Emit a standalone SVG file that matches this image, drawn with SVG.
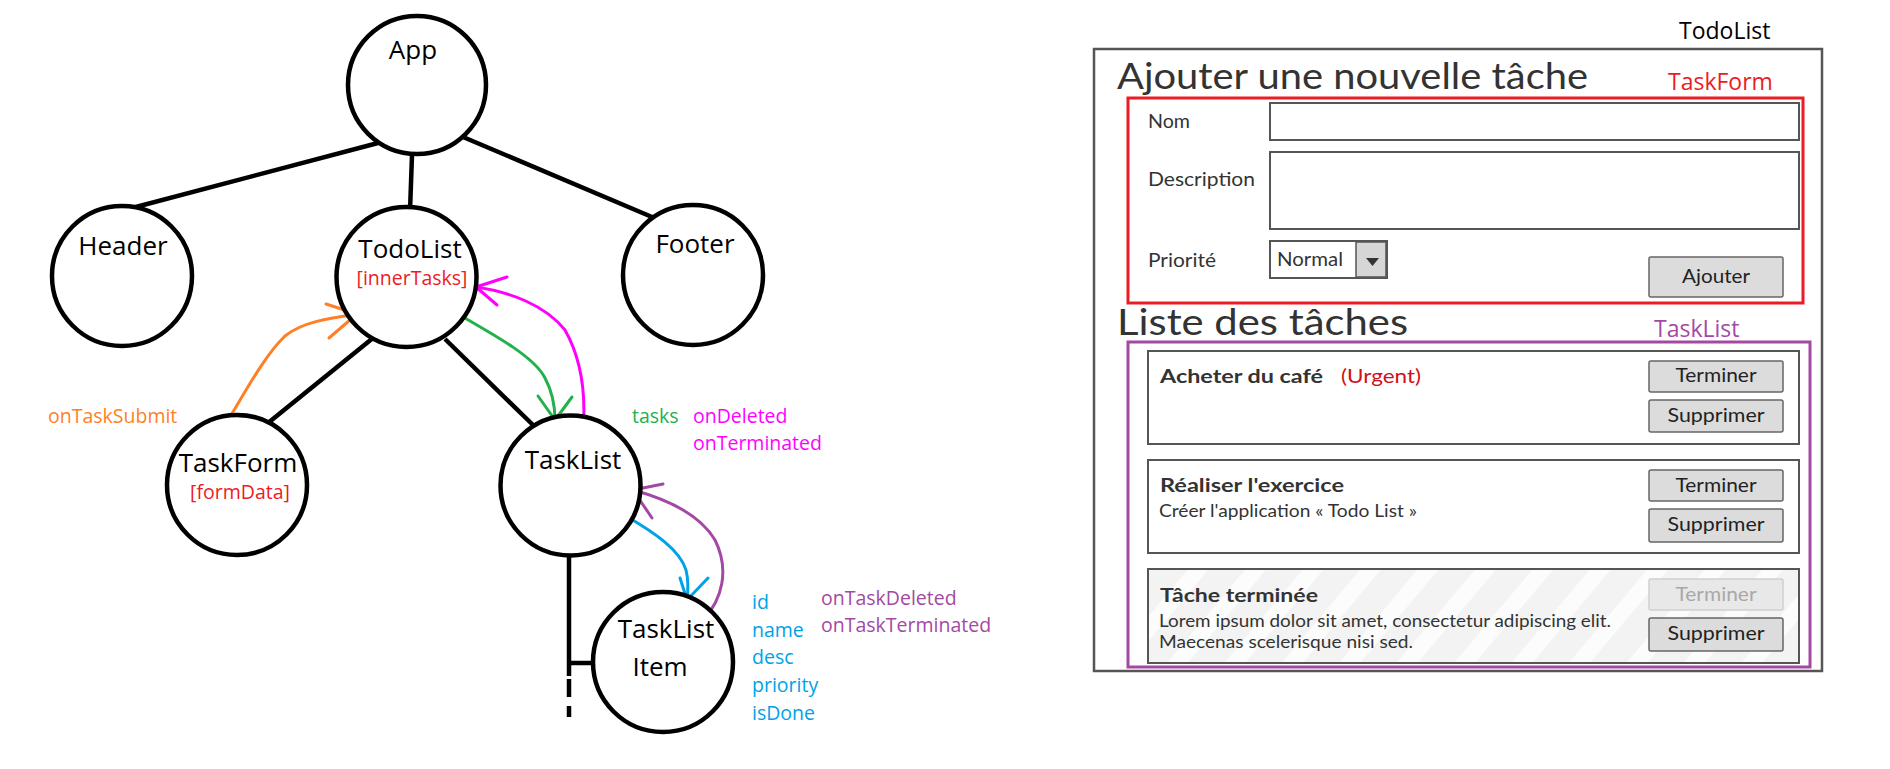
<svg xmlns="http://www.w3.org/2000/svg" width="1890" height="769" viewBox="0 0 1890 769">
<style>
.node{fill:#fff;stroke:#000;stroke-width:4.5}
.nt{font-family:"Open Sans","Liberation Sans",sans-serif;font-size:26px;fill:#000;text-anchor:middle}
.st{font-family:"Open Sans","Liberation Sans",sans-serif;font-size:19.5px}
.edge{stroke:#000;stroke-width:4.5;fill:none}
.arr{fill:none;stroke-width:3;stroke-linecap:round;stroke-linejoin:round}
.mk{font-family:Lato,"Open Sans",sans-serif;fill:#333}
.box{fill:#fff;stroke:#555;stroke-width:2}
.btn{fill:#dcdcdc;stroke:#666;stroke-width:1.5}
.bt{font-family:Lato,"Open Sans",sans-serif;font-size:20px;fill:#222;text-anchor:middle}
</style>
<defs>
<pattern id="stripes" width="44" height="44" patternUnits="userSpaceOnUse" patternTransform="rotate(40)">
<rect width="44" height="44" fill="#f3f3f3"/>
<rect width="16" height="44" fill="#fcfcfc"/>
</pattern>
</defs>
<rect width="1890" height="769" fill="#fff"/>

<g id="connectors">
<line class="edge" x1="378" y1="143" x2="132" y2="208"/>
<line class="edge" x1="412" y1="155" x2="410" y2="211"/>
<line class="edge" x1="463" y1="137" x2="652" y2="217"/>
<line class="edge" x1="373" y1="338" x2="268" y2="423"/>
<line class="edge" x1="445" y1="339" x2="533" y2="425"/>
<line class="edge" x1="569" y1="555" x2="569" y2="676"/>
<line class="edge" x1="569" y1="679" x2="569" y2="697"/>
<line class="edge" x1="569" y1="706" x2="569" y2="717"/>
<line class="edge" x1="567" y1="663" x2="596" y2="663"/>
<path class="arr" stroke="#ff7f27" d="M222,430 C240,402 262,358 285,336 C302,322 330,318 357,314"/>
<path class="arr" stroke="#ff7f27" d="M326,304 L357,314 L329,338"/>
<path class="arr" stroke="#22b14c" d="M456,313 C500,338 535,358 545,378 C553,393 555,405 555,420"/>
<path class="arr" stroke="#22b14c" d="M538,396 L555,420 L572,397"/>
<path class="arr" stroke="#ff00ff" d="M583,431 C586,395 582,360 565,330 C545,305 510,292 476,287"/>
<path class="arr" stroke="#ff00ff" d="M507,277 L476,287 L497,305"/>
<path class="arr" stroke="#a349a4" d="M703,620 C722,600 730,570 715,540 C700,515 670,500 633,490"/>
<path class="arr" stroke="#a349a4" d="M663,484 L633,490 L652,518"/>
<path class="arr" stroke="#00a2e8" d="M626,516 C655,533 680,550 686,570 C689,582 688,592 687,600"/>
<path class="arr" stroke="#00a2e8" d="M680,578 L687,600 L708,578"/>
</g>

<g id="node-app"><circle class="node" cx="417" cy="85" r="69"/><text class="nt" x="413" y="59">App</text></g>
<g id="node-header"><circle class="node" cx="122" cy="276" r="70"/><text class="nt" x="123" y="255">Header</text></g>
<g id="node-todolist"><circle class="node" cx="406.5" cy="277" r="70"/><text class="nt" x="410" y="258">TodoList</text><text class="st" x="412" y="285" fill="#ed1c24" text-anchor="middle">[innerTasks]</text></g>
<g id="node-footer"><circle class="node" cx="693" cy="275" r="70"/><text class="nt" x="695" y="253">Footer</text></g>
<g id="node-taskform"><circle class="node" cx="237" cy="485" r="70"/><text class="nt" x="238" y="472">TaskForm</text><text class="st" x="240" y="499" fill="#ed1c24" text-anchor="middle">[formData]</text></g>
<g id="node-tasklist"><circle class="node" cx="570.5" cy="485.5" r="70"/><text class="nt" x="573" y="469">TaskList</text></g>
<g id="node-tasklistitem"><circle class="node" cx="663" cy="662" r="70"/><text class="nt" x="666" y="638">TaskList</text><text class="nt" x="660" y="676">Item</text></g>

<g id="labels">
<text class="st" x="48" y="423" fill="#ff7f27">onTaskSubmit</text>
<text class="st" x="632" y="423" fill="#22b14c">tasks</text>
<text class="st" x="693" y="423" fill="#ff00ff">onDeleted</text>
<text class="st" x="693" y="450" fill="#ff00ff">onTerminated</text>
<text class="st" x="752" y="609" fill="#00a2e8">id</text>
<text class="st" x="752" y="637" fill="#00a2e8">name</text>
<text class="st" x="752" y="664" fill="#00a2e8">desc</text>
<text class="st" x="752" y="692" fill="#00a2e8">priority</text>
<text class="st" x="752" y="720" fill="#00a2e8">isDone</text>
<text class="st" x="821" y="605" fill="#a349a4">onTaskDeleted</text>
<text class="st" x="821" y="632" fill="#a349a4">onTaskTerminated</text>
</g>

<g id="mockup">
<text x="1679" y="39" font-family="Open Sans, sans-serif" font-size="23" fill="#000">TodoList</text>
<rect x="1094" y="49" width="728" height="622" fill="#fff" stroke="#555" stroke-width="2.5"/>
<text class="mk" x="1117" y="89" font-size="37" textLength="471" lengthAdjust="spacingAndGlyphs">Ajouter une nouvelle tâche</text>
<text x="1668" y="90" font-family="Open Sans, sans-serif" font-size="23" fill="#ed1c24">TaskForm</text>
<rect x="1128" y="98" width="675" height="205" fill="none" stroke="#ed1c24" stroke-width="3"/>
<text class="mk" x="1148" y="128" font-size="20" textLength="42" lengthAdjust="spacingAndGlyphs">Nom</text>
<text class="mk" x="1148" y="186" font-size="20" textLength="107" lengthAdjust="spacingAndGlyphs">Description</text>
<text class="mk" x="1148" y="267" font-size="20" textLength="68" lengthAdjust="spacingAndGlyphs">Priorité</text>
<rect class="box" x="1270" y="103" width="529" height="37"/>
<rect class="box" x="1270" y="152" width="529" height="77"/>
<rect class="box" x="1270" y="241" width="117" height="37"/>
<rect x="1356" y="242" width="30" height="35" fill="#d6d6d6" stroke="#555" stroke-width="1.5"/>
<polygon points="1366,258 1379,258 1372.5,266" fill="#333"/>
<text class="mk" x="1277" y="266" font-size="19" textLength="66" lengthAdjust="spacingAndGlyphs">Normal</text>
<rect class="btn" x="1649" y="257" width="134" height="40" rx="2"/>
<text class="bt" x="1716" y="283" textLength="68" lengthAdjust="spacingAndGlyphs">Ajouter</text>
<text class="mk" x="1117" y="335" font-size="37" textLength="291" lengthAdjust="spacingAndGlyphs">Liste des tâches</text>
<text x="1654" y="337" font-family="Open Sans, sans-serif" font-size="23" fill="#a349a4">TaskList</text>
<rect x="1128" y="342" width="682" height="325" fill="none" stroke="#a349a4" stroke-width="3"/>

<rect class="box" x="1148" y="351" width="651" height="93"/>
<text class="mk" x="1160" y="383" font-size="19" font-weight="bold" textLength="163" lengthAdjust="spacingAndGlyphs">Acheter du café</text>
<text x="1341" y="383" font-family="Lato, sans-serif" font-size="19" fill="#d0101a" textLength="80" lengthAdjust="spacingAndGlyphs">(Urgent)</text>
<rect class="btn" x="1649" y="361" width="134" height="31" rx="2"/>
<text class="bt" x="1716" y="382" textLength="81" lengthAdjust="spacingAndGlyphs">Terminer</text>
<rect class="btn" x="1649" y="400" width="134" height="32" rx="2"/>
<text class="bt" x="1716" y="422" textLength="97" lengthAdjust="spacingAndGlyphs">Supprimer</text>

<rect class="box" x="1148" y="460" width="651" height="93"/>
<text class="mk" x="1160" y="492" font-size="19" font-weight="bold" textLength="184" lengthAdjust="spacingAndGlyphs">Réaliser l'exercice</text>
<text class="mk" x="1159" y="517" font-size="17" textLength="258" lengthAdjust="spacingAndGlyphs">Créer l'application « Todo List »</text>
<rect class="btn" x="1649" y="470" width="134" height="31" rx="2"/>
<text class="bt" x="1716" y="492" textLength="81" lengthAdjust="spacingAndGlyphs">Terminer</text>
<rect class="btn" x="1649" y="509" width="134" height="33" rx="2"/>
<text class="bt" x="1716" y="531" textLength="97" lengthAdjust="spacingAndGlyphs">Supprimer</text>

<rect x="1148" y="569" width="651" height="94" fill="url(#stripes)" stroke="#555" stroke-width="2"/>
<text class="mk" x="1160" y="602" font-size="19" font-weight="bold" textLength="158" lengthAdjust="spacingAndGlyphs">Tâche terminée</text>
<text class="mk" x="1159" y="627" font-size="17" textLength="452" lengthAdjust="spacingAndGlyphs">Lorem ipsum dolor sit amet, consectetur adipiscing elit.</text>
<text class="mk" x="1159" y="648" font-size="17" textLength="254" lengthAdjust="spacingAndGlyphs">Maecenas scelerisque nisi sed.</text>
<rect x="1649" y="579" width="134" height="31" rx="2" fill="#e8e8e8" stroke="#d0d0d0" stroke-width="1.5"/>
<text class="bt" x="1716" y="601" style="fill:#a8a8a8" textLength="81" lengthAdjust="spacingAndGlyphs">Terminer</text>
<rect class="btn" x="1649" y="618" width="134" height="33" rx="2"/>
<text class="bt" x="1716" y="640" textLength="97" lengthAdjust="spacingAndGlyphs">Supprimer</text>
</g>
</svg>
